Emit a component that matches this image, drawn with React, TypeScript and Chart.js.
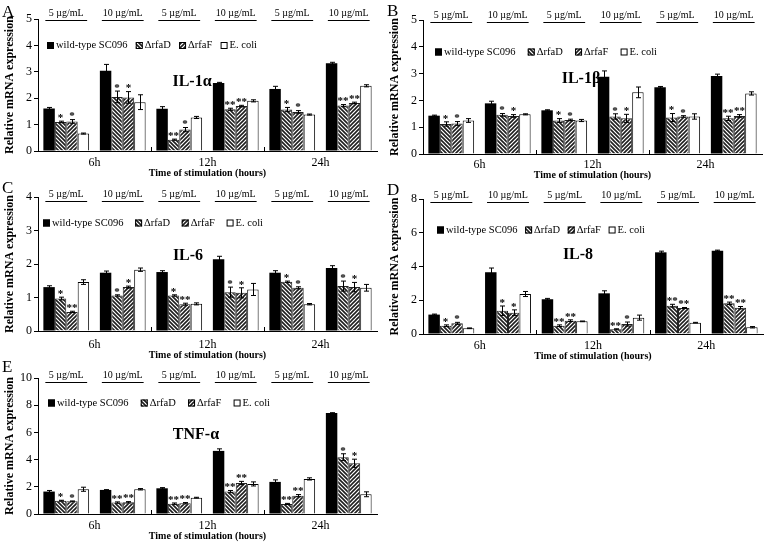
import React, { useEffect, useRef } from 'react';
import { Chart, registerables } from 'chart.js';

Chart.register(...registerables);

const FONT = '"Liberation Serif", "Times New Roman", serif';

// ---------- shared labels ----------
const doseLabels = ['5 µg/mL', '10 µg/mL', '5 µg/mL', '10 µg/mL', '5 µg/mL', '10 µg/mL'];
const timeLabels = ['6h', '12h', '24h'];
const seriesNames = ['wild-type SC096', 'ΔrfaD', 'ΔrfaF', 'E. coli'];
const yAxisTitle = 'Relative mRNA expression';
const xAxisTitle = 'Time of stimulation (hours)';

// ---------- A: IL-1α ----------
const il1aWT = [1.61, 3.04, 1.6, 2.58, 2.35, 3.32];
const il1aWTErr = [0.04, 0.24, 0.08, 0.02, 0.1, 0.04];
const il1aD = [1.1, 2.05, 0.43, 1.58, 1.57, 1.72];
const il1aDErr = [0.03, 0.22, 0.02, 0.04, 0.08, 0.04];
const il1aF = [1.12, 2.03, 0.81, 1.7, 1.48, 1.82];
const il1aFErr = [0.07, 0.22, 0.08, 0.03, 0.05, 0.03];
const il1aE = [0.66, 1.85, 1.27, 1.9, 1.38, 2.47];
const il1aEErr = [0.02, 0.28, 0.04, 0.04, 0.02, 0.04];
const il1aDStars = ['*', '*', '**', '**', '*', '**'];
const il1aFStars = ['*', '*', '*', '**', '*', '**'];

// ---------- B: IL-1β ----------
const il1bWT = [1.43, 1.89, 1.63, 2.88, 2.49, 2.91];
const il1bWTErr = [0.02, 0.08, 0.02, 0.22, 0.03, 0.07];
const il1bD = [1.12, 1.46, 1.25, 1.4, 1.36, 1.33];
const il1bDErr = [0.08, 0.05, 0.07, 0.1, 0.15, 0.08];
const il1bF = [1.14, 1.42, 1.27, 1.33, 1.4, 1.42];
const il1bFErr = [0.07, 0.05, 0.03, 0.15, 0.03, 0.05];
const il1bE = [1.25, 1.48, 1.25, 2.3, 1.4, 2.26];
const il1bEErr = [0.07, 0.02, 0.04, 0.2, 0.1, 0.06];
const il1bDStars = ['*', '*', '*', '*', '*', '**'];
const il1bFStars = ['*', '*', '*', '*', '*', '**'];

// ---------- C: IL-6 ----------
const il6WT = [1.31, 1.74, 1.76, 2.14, 1.74, 1.88];
const il6WTErr = [0.04, 0.05, 0.04, 0.09, 0.06, 0.07];
const il6D = [0.97, 1.06, 1.06, 1.16, 1.47, 1.34];
const il6DErr = [0.04, 0.02, 0.02, 0.15, 0.02, 0.15];
const il6F = [0.57, 1.31, 0.8, 1.14, 1.29, 1.31];
const il6FErr = [0.02, 0.03, 0.03, 0.15, 0.03, 0.14];
const il6E = [1.46, 1.83, 0.81, 1.24, 0.8, 1.29];
const il6EErr = [0.07, 0.05, 0.03, 0.18, 0.02, 0.1];
const il6DStars = ['*', '*', '*', '*', '*', '*'];
const il6FStars = ['**', '*', '**', '*', '*', '*'];

// ---------- D: IL-8 ----------
const il8WT = [1.15, 3.66, 2.06, 2.41, 4.84, 4.94];
const il8WTErr = [0.03, 0.25, 0.05, 0.15, 0.07, 0.03];
const il8D = [0.49, 1.38, 0.49, 0.28, 1.68, 1.82];
const il8DErr = [0.05, 0.28, 0.05, 0.03, 0.08, 0.07];
const il8F = [0.63, 1.26, 0.79, 0.59, 1.54, 1.56];
const il8FErr = [0.06, 0.17, 0.05, 0.12, 0.03, 0.07];
const il8E = [0.34, 2.37, 0.75, 0.97, 0.67, 0.4];
const il8EErr = [0.02, 0.15, 0.02, 0.15, 0.02, 0.04];
const il8DStars = ['*', '*', '**', '**', '**', '**'];
const il8FStars = ['*', '*', '**', '*', '**', '**'];

// ---------- E: TNF-α ----------
const tnfWT = [1.65, 1.77, 1.89, 4.64, 2.36, 7.42];
const tnfWTErr = [0.08, 0.02, 0.05, 0.15, 0.15, 0.03];
const tnfD = [0.98, 0.84, 0.76, 1.65, 0.74, 4.18];
const tnfDErr = [0.03, 0.05, 0.05, 0.08, 0.04, 0.25];
const tnfF = [0.93, 0.86, 0.79, 2.28, 1.35, 3.73];
const tnfFErr = [0.03, 0.05, 0.05, 0.12, 0.08, 0.3];
const tnfE = [1.82, 1.82, 1.2, 2.21, 2.58, 1.45];
const tnfEErr = [0.15, 0.05, 0.03, 0.15, 0.08, 0.18];
const tnfDStars = ['*', '**', '**', '**', '**', '*'];
const tnfFStars = ['*', '**', '**', '**', '**', '*'];

type Layout = {
  x: number; y: number; w: number; h: number;
  plotLeft: number; plotRight: number; plotTop: number; plotBottom: number;
  underlineY: number; tickY: number; xTitleY: number;
  legendX: number; legendY: number; legendWidth: number;
  titleX: number; titleY: number; letterX: number; letterY: number;
};

type PanelCfg = {
  letter: string; title: string; yMax: number; yStep: number;
  wt: number[]; wtErr: number[]; d: number[]; dErr: number[]; f: number[]; fErr: number[];
  e: number[]; eErr: number[]; dStars: string[]; fStars: string[];
  layout: Layout;
};

const panels: PanelCfg[] = [
  {
    letter: 'A', title: 'IL-1α', yMax: 5, yStep: 1,
    wt: il1aWT, wtErr: il1aWTErr, d: il1aD, dErr: il1aDErr, f: il1aF, fErr: il1aFErr,
    e: il1aE, eErr: il1aEErr, dStars: il1aDStars, fStars: il1aFStars,
    layout: { x: 0, y: 0, w: 385, h: 185, plotLeft: 38, plotRight: 377, plotTop: 19, plotBottom: 151,
      underlineY: 20, tickY: 163, xTitleY: 173, legendX: 47, legendY: 45.5, legendWidth: 210,
      titleX: 192, titleY: 82, letterX: 2, letterY: 17 },
  },
  {
    letter: 'B', title: 'IL-1β', yMax: 5, yStep: 1,
    wt: il1bWT, wtErr: il1bWTErr, d: il1bD, dErr: il1bDErr, f: il1bF, fErr: il1bFErr,
    e: il1bE, eErr: il1bEErr, dStars: il1bDStars, fStars: il1bFStars,
    layout: { x: 385, y: 0, w: 387, h: 185, plotLeft: 38, plotRight: 377, plotTop: 20, plotBottom: 154,
      underlineY: 21.5, tickY: 165, xTitleY: 175, legendX: 50, legendY: 52, legendWidth: 222,
      titleX: 196, titleY: 79, letterX: 2, letterY: 16 },
  },
  {
    letter: 'C', title: 'IL-6', yMax: 4, yStep: 1,
    wt: il6WT, wtErr: il6WTErr, d: il6D, dErr: il6DErr, f: il6F, fErr: il6FErr,
    e: il6E, eErr: il6EErr, dStars: il6DStars, fStars: il6FStars,
    layout: { x: 0, y: 180, w: 385, h: 185, plotLeft: 38, plotRight: 377, plotTop: 17, plotBottom: 151,
      underlineY: 20.5, tickY: 165, xTitleY: 175, legendX: 43, legendY: 43, legendWidth: 220,
      titleX: 188, titleY: 76, letterX: 2, letterY: 13 },
  },
  {
    letter: 'D', title: 'IL-8', yMax: 8, yStep: 2,
    wt: il8WT, wtErr: il8WTErr, d: il8D, dErr: il8DErr, f: il8F, fErr: il8FErr,
    e: il8E, eErr: il8EErr, dStars: il8DStars, fStars: il8FStars,
    layout: { x: 385, y: 180, w: 387, h: 185, plotLeft: 38, plotRight: 378, plotTop: 19, plotBottom: 154,
      underlineY: 21.5, tickY: 165.7, xTitleY: 176.7, legendX: 52, legendY: 50, legendWidth: 208,
      titleX: 193, titleY: 75, letterX: 2, letterY: 15 },
  },
  {
    letter: 'E', title: 'TNF-α', yMax: 10, yStep: 2,
    wt: tnfWT, wtErr: tnfWTErr, d: tnfD, dErr: tnfDErr, f: tnfF, fErr: tnfFErr,
    e: tnfE, eErr: tnfEErr, dStars: tnfDStars, fStars: tnfFStars,
    layout: { x: 0, y: 360, w: 385, h: 189, plotLeft: 38, plotRight: 377, plotTop: 18, plotBottom: 154,
      underlineY: 21.5, tickY: 165.7, xTitleY: 176.7, legendX: 48, legendY: 43, legendWidth: 222,
      titleX: 196, titleY: 75, letterX: 2, letterY: 12 },
  },
];

function makeHatch(dir: number): CanvasPattern | string {
  const c = document.createElement('canvas');
  c.width = 4; c.height = 4;
  const g = c.getContext('2d');
  if (!g) return '#999';
  g.fillStyle = '#fff';
  g.fillRect(0, 0, 4, 4);
  g.strokeStyle = '#1e1e1e';
  g.lineWidth = 1.6;
  g.beginPath();
  if (dir > 0) {
    g.moveTo(0, 4); g.lineTo(4, 0);
    g.moveTo(-1, 1); g.lineTo(1, -1);
    g.moveTo(3, 5); g.lineTo(5, 3);
  } else {
    g.moveTo(0, 0); g.lineTo(4, 4);
    g.moveTo(-1, 3); g.lineTo(1, 5);
    g.moveTo(3, -1); g.lineTo(5, 1);
  }
  g.stroke();
  return g.createPattern(c, 'repeat') || '#999';
}

function Panel({ cfg }: { cfg: PanelCfg }) {
  const ref = useRef<HTMLCanvasElement>(null);
  const L = cfg.layout;
  useEffect(() => {
    const canvas = ref.current;
    if (!canvas) return;
    const hatchD = makeHatch(-1);
    const hatchF = makeHatch(1);

    const decor = {
      id: 'decor',
      afterDatasetsDraw(chart: any) {
        const ctx = chart.ctx as CanvasRenderingContext2D;
        const ys = chart.scales.y;
        ctx.save();
        chart.data.datasets.forEach((ds: any, di: number) => {
          const meta = chart.getDatasetMeta(di);
          meta.data.forEach((bar: any, i: number) => {
            const v = ds.data[i];
            const e = ds.errors ? ds.errors[i] : 0;
            const x = Math.round(bar.x) + 0.5;
            const yT = ys.getPixelForValue(v + e);
            const yB = ys.getPixelForValue(v - e);
            ctx.strokeStyle = '#000';
            ctx.lineWidth = 1;
            ctx.beginPath();
            ctx.moveTo(x, yT); ctx.lineTo(x, yB);
            ctx.moveTo(x - 2.5, yT); ctx.lineTo(x + 2.5, yT);
            ctx.moveTo(x - 2.5, yB); ctx.lineTo(x + 2.5, yB);
            ctx.stroke();
            const s = ds.stars ? ds.stars[i] : '';
            if (s) {
              ctx.fillStyle = '#000';
              ctx.font = `bold 11px ${FONT}`;
              ctx.textAlign = 'center';
              ctx.textBaseline = 'middle';
              ctx.fillText(s, bar.x, yT - 3);
            }
          });
        });
        ctx.restore();
      },
      afterDraw(chart: any) {
        const ctx = chart.ctx as CanvasRenderingContext2D;
        const area = chart.chartArea;
        ctx.save();
        ctx.strokeStyle = '#000';
        ctx.fillStyle = '#000';
        ctx.lineWidth = 1;
        // dose labels with underlines, positioned by the top category scale
        const top = chart.scales.xTop;
        const catW = (area.right - area.left) / doseLabels.length;
        const uy = Math.round(L.underlineY) + 0.5;
        ctx.font = `10px ${FONT}`;
        ctx.textAlign = 'center';
        ctx.textBaseline = 'middle';
        ctx.beginPath();
        doseLabels.forEach((lab, i) => {
          const cx = top.getPixelForTick(i);
          ctx.fillText(lab, cx, L.underlineY - 6.5);
          ctx.moveTo(cx - catW * 0.37, uy);
          ctx.lineTo(cx + catW * 0.37, uy);
        });
        ctx.stroke();
        // inner tick marks between time groups
        const x2 = chart.scales.x2;
        ctx.beginPath();
        for (let i = 0; i < timeLabels.length - 1; i++) {
          const bx = Math.round((x2.getPixelForTick(i) + x2.getPixelForTick(i + 1)) / 2) + 0.5;
          ctx.moveTo(bx, area.bottom);
          ctx.lineTo(bx, area.bottom - 4);
        }
        ctx.stroke();
        // legend
        ctx.font = `10.5px ${FONT}`;
        const dsets = chart.data.datasets;
        const widths = dsets.map((d: any) => ctx.measureText(d.label).width);
        const box = 7;
        const totalW = widths.reduce((a: number, b: number) => a + b, 0) + dsets.length * (box + 2);
        const gap = (L.legendWidth - totalW) / (dsets.length - 1);
        let lx = L.legendX;
        const ly = L.legendY;
        dsets.forEach((d: any, i: number) => {
          ctx.fillStyle = d.backgroundColor;
          ctx.fillRect(lx, ly - box / 2, box, box);
          ctx.strokeStyle = '#000';
          ctx.strokeRect(lx + 0.5, ly - box / 2 + 0.5, box - 1, box - 1);
          ctx.fillStyle = '#000';
          ctx.textAlign = 'left';
          ctx.textBaseline = 'middle';
          ctx.fillText(d.label, lx + box + 2, ly);
          lx += box + 2 + widths[i] + gap;
        });
        // inner title
        ctx.font = `bold 16px ${FONT}`;
        ctx.textAlign = 'center';
        ctx.textBaseline = 'middle';
        ctx.fillText(cfg.title, L.titleX, L.titleY);
        // panel letter
        ctx.font = `17px ${FONT}`;
        ctx.textAlign = 'left';
        ctx.textBaseline = 'alphabetic';
        ctx.fillText(cfg.letter, L.letterX, L.letterY);
        ctx.restore();
      },
    };

    const chart = new Chart(canvas, {
      type: 'bar',
      data: {
        labels: doseLabels,
        datasets: [
          { label: seriesNames[0], data: cfg.wt, errors: cfg.wtErr, backgroundColor: '#000', borderColor: '#000', borderWidth: 0 } as any,
          { label: seriesNames[1], data: cfg.d, errors: cfg.dErr, stars: cfg.dStars, backgroundColor: hatchD, borderColor: '#222', borderWidth: 1 } as any,
          { label: seriesNames[2], data: cfg.f, errors: cfg.fErr, stars: cfg.fStars, backgroundColor: hatchF, borderColor: '#222', borderWidth: 1 } as any,
          { label: seriesNames[3], data: cfg.e, errors: cfg.eErr, backgroundColor: '#fff', borderColor: '#000', borderWidth: 1 } as any,
        ],
      },
      options: {
        responsive: false,
        animation: false,
        devicePixelRatio: 1,
        datasets: { bar: { categoryPercentage: 0.81, barPercentage: 1 } },
        layout: { padding: { left: 0, top: 0, right: L.w - L.plotRight, bottom: L.h - L.xTitleY - 7 } },
        plugins: { legend: { display: false }, tooltip: { enabled: false }, title: { display: false } },
        scales: {
          x: { type: 'category', display: false, offset: true },
          xTop: {
            type: 'category', position: 'top', labels: doseLabels, offset: true,
            grid: { display: false, drawTicks: false }, border: { display: false },
            ticks: { display: false },
            afterFit: (s: any) => { s.height = L.plotTop; },
          },
          x2: {
            type: 'category', position: 'bottom', labels: timeLabels, offset: true,
            grid: { display: true, drawOnChartArea: false, drawTicks: false, color: 'rgba(0,0,0,0)' },
            border: { display: true, color: '#000', width: 1 },
            ticks: { font: { family: FONT, size: 12 }, color: '#000', padding: L.tickY - L.plotBottom - 7.2, maxRotation: 0, autoSkip: false },
            title: { display: true, text: xAxisTitle, color: '#000', font: { family: FONT, size: 10, weight: 'bold' }, padding: { top: 0, bottom: 1 } },
            afterFit: (s: any) => { s.height = L.xTitleY + 7 - L.plotBottom; },
          },
          y: {
            position: 'left', min: 0, max: cfg.yMax,
            ticks: { stepSize: cfg.yStep, font: { family: FONT, size: 12 }, color: '#000', padding: 2 },
            grid: { display: true, drawOnChartArea: false, drawTicks: true, tickLength: 4, color: '#000' },
            border: { display: true, color: '#000', width: 1 },
            title: { display: true, text: yAxisTitle, color: '#000', font: { family: FONT, size: 12, weight: 'bold' }, padding: { top: 3, bottom: 0 } },
            afterFit: (s: any) => { s.width = L.plotLeft; },
          },
        } as any,
      } as any,
      plugins: [decor],
    });
    return () => chart.destroy();
  }, [cfg]);

  return (
    <canvas
      ref={ref}
      width={L.w}
      height={L.h}
      style={{ position: 'absolute', left: L.x, top: L.y, width: L.w, height: L.h }}
    />
  );
}

export default function App() {
  return (
    <div style={{ position: 'absolute', left: 0, top: 0, width: 772, height: 549, background: '#fff', overflow: 'hidden' }}>
      {panels.map((p) => (
        <Panel key={p.letter} cfg={p} />
      ))}
    </div>
  );
}
